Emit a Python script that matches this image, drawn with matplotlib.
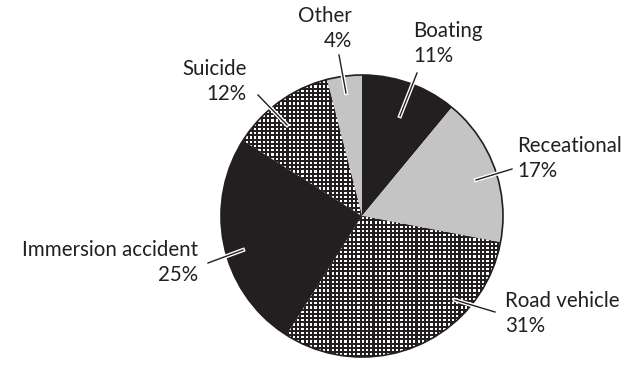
import matplotlib.pyplot as plt
import matplotlib.patheffects as pe
import numpy as np
from matplotlib.patches import Circle

# shares of drownings by cause (%), clockwise from 12 o'clock
causes = ['Boating', 'Receational', 'Road vehicle', 'Immersion accident', 'Suicide', 'Other']
shares = [11, 17, 31, 25, 12, 4]

# fill style per slice
fills = ['dark', 'grey', 'dots', 'dark', 'dots', 'grey']

dark = '#231f20'
grey = '#c4c4c4'

# layout in pixels (figure is 626 x 371)
W, H = 626, 371
R = 141.0
cx, cy = 362, 216

def px(x, y):
    return (x - cx) / R, (cy - y) / R

# label anchor (baseline of the % line), alignment, leader outer and inner ends
label_pos = [(413, 62, 'left'), (517, 177, 'left'), (505, 332, 'left'),
             (198, 281, 'right'), (247, 100, 'right'), (352, 47, 'right')]
leader_out = [(417, 73), (512, 169), (495, 312), (208, 263), (258, 95), (339, 55)]
leader_in = [(400, 116), (476, 180), (455, 300), (243, 250), (287, 125), (346, 93)]

fig = plt.figure(figsize=(W / 100, H / 100), dpi=100)
ax = fig.add_axes([0, 0, 1, 1])

cols = [grey if f == 'grey' else dark for f in fills]
wedges, _ = ax.pie(shares, startangle=90, counterclock=False, colors=cols,
                   radius=1, center=(0, 0), frame=True,
                   wedgeprops=dict(linewidth=0))

# pixel pattern of white squares on black for the dotted slices
ix = np.arange(W)
iy = np.arange(H)
mask = ((iy % 4.25) < 2.1)[:, None] & ((ix % 4.3) < 2.2)[None, :]
img = np.zeros((H, W, 3))
img[:] = [0x23 / 255, 0x1f / 255, 0x20 / 255]
img[mask] = 1.0
ext = (-cx / R, (W - cx) / R, -(H - cy) / R, cy / R)
for w, f in zip(wedges, fills):
    if f == 'dots':
        im = ax.imshow(img, extent=ext, interpolation='nearest', zorder=3)
        im.set_clip_path(w)

ax.add_patch(Circle((0, 0), 1, fill=False, ec=dark, lw=1.2, zorder=4))

for name, v, (lx, ly, ha), o, i in zip(causes, shares, label_pos, leader_out, leader_in):
    x0, y0 = px(*o)
    x1, y1 = px(*i)
    ax.plot([x0, x1], [y0, y1], color=dark, lw=1, zorder=5,
            path_effects=[pe.Stroke(linewidth=3, foreground='white'), pe.Normal()])
    tx, ty = px(lx, ly)
    ax.text(tx, ty, f'{name}\n{v}%', ha=ha, va='baseline', fontsize=14.8,
            family='Lato', color=dark, linespacing=1.3)

ax.set_xlim(ext[0], ext[1])
ax.set_ylim(ext[2], ext[3])
ax.set_aspect('equal')
ax.axis('off')

fig.savefig('out.png', dpi=100)
